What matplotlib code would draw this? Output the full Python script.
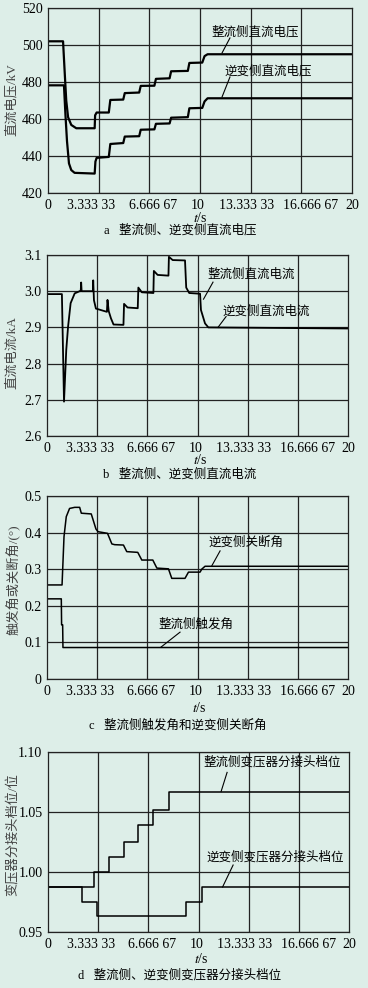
import matplotlib
matplotlib.use('Agg')
import matplotlib.pyplot as plt

plt.rcParams['font.family'] = ['Liberation Serif', 'Noto Sans CJK SC', 'DejaVu Sans']
plt.rcParams['mathtext.fontset'] = 'stix'

# 数据
grid_t = [0, 10/3, 20/3, 10, 40/3, 50/3, 20]
xticklabels = ['0', '3.333 33', '6.666 67', '10', '13.333 33', '16.666 67', '20']
# 原图刻度文字并不正对网格线
label_pos = [0, 2.83, 6.91, 9.87, 13.09, 17.3, 20]

# a 直流电压
ua_r_t = [0, 0.99, 1.1, 1.2, 1.32, 1.53, 1.86, 3.07, 3.1, 3.2, 4.0, 4.1, 4.95, 5.05, 6.0, 6.1,
          7.0, 7.1, 8.0, 8.1, 9.2, 9.3, 10.15, 10.3, 10.5, 20]
ua_r_v = [502, 502, 485, 470, 461, 456.8, 455, 455, 462, 463.5, 463.5, 470.3, 470.5, 474, 474.3, 477.9,
          478, 481.7, 482, 485.8, 486, 490.3, 490.5, 494, 495, 495]
ua_i_t = [0, 1.05, 1.15, 1.25, 1.38, 1.53, 1.75, 3.07, 3.12, 3.2, 4.0, 4.1, 4.95, 5.05, 6.0, 6.1,
          7.0, 7.1, 8.0, 8.1, 9.2, 9.3, 10.15, 10.3, 10.5, 20]
ua_i_v = [478.2, 478.2, 462, 448, 436, 432.4, 430.9, 430.5, 437, 439, 439.5, 446.5, 447, 450.5, 450.7, 454.2,
          454.4, 457.4, 457.6, 460.7, 461, 465.8, 466, 469.5, 471.2, 471.2]

# b 直流电流 (两侧重合)
id_t = [0, 0.99, 1.13, 1.28, 1.4, 1.57, 1.84, 2.17, 2.24, 2.27, 2.3, 3.05, 3.07, 3.12, 3.25, 3.98,
        4.02, 4.1, 4.25, 4.42, 5.08, 5.12, 5.35, 6.03, 6.07, 6.3, 7.07, 7.1, 7.35, 8.07, 8.1, 8.35,
        9.17, 9.25, 9.45, 10.17, 10.23, 10.5, 10.72, 20]
id_v = [2.992, 2.992, 2.695, 2.838, 2.902, 2.967, 2.994, 3.0, 3.0, 3.024, 3.0, 3.0, 3.03, 2.975, 2.952, 2.943,
        2.976, 2.945, 2.925, 2.908, 2.907, 2.965, 2.955, 2.953, 3.01, 2.997, 2.995, 3.056, 3.045, 3.043, 3.095, 3.086,
        3.085, 3.01, 2.995, 2.993, 2.948, 2.911, 2.9, 2.897]

# c 触发角/关断角
gam_t = [0, 1.0, 1.13, 1.28, 1.5, 1.84, 2.17, 2.28, 2.94, 3.1, 3.25, 3.39, 4.02, 4.31, 4.5, 5.08,
         5.3, 6.03, 6.3, 7.03, 7.3, 8.07, 8.29, 9.17, 9.4, 10.17, 10.28, 10.5, 20]
gam_v = [0.257, 0.257, 0.389, 0.4435, 0.466, 0.469, 0.469, 0.453, 0.451, 0.43, 0.41, 0.4025, 0.398, 0.369, 0.367, 0.366,
         0.348, 0.346, 0.325, 0.325, 0.303, 0.301, 0.275, 0.275, 0.292, 0.292, 0.30, 0.308, 0.308]
alp_t = [0, 0.95, 0.97, 1.04, 1.06, 20]
alp_v = [0.219, 0.219, 0.148, 0.148, 0.086, 0.086]

# d 分接头档位
tap_r_t = [0, 3.03, 4.02, 5.08, 6.01, 7.0, 8.04, 20]
tap_r_v = [0.9875, 1.0, 1.0125, 1.025, 1.039, 1.052, 1.067, 1.067]
tap_i_t = [0, 2.25, 3.25, 9.17, 10.21, 20]
tap_i_v = [0.9875, 0.975, 0.9635, 0.975, 0.9875, 0.9875]

W, H = 368, 988
bg = '#ddeee8'
fig = plt.figure(figsize=(W/100, H/100), dpi=100, facecolor=bg)


def add_ax(l, t, r, b):
    ax = fig.add_axes([l/W, 1 - b/H, (r - l)/W, (b - t)/H])
    ax.set_facecolor(bg)
    ax.set_xlim(0, 20)
    ax.set_xticks(grid_t, minor=True)
    ax.set_xticks(label_pos)
    ax.set_xticklabels(xticklabels)
    ax.xaxis.grid(False, which='major')
    ax.xaxis.grid(True, which='minor', color='#222222', lw=0.9)
    ax.yaxis.grid(True, color='#222222', lw=0.9)
    ax.tick_params(which='both', length=0, labelsize=10, pad=4)
    for s in ax.spines.values():
        s.set_color('#222222')
        s.set_linewidth(0.9)
    return ax


def ftext(x, y, s, **kw):
    fig.text(x/W, 1 - y/H, s, ha='center', va='center', **kw)


def label(ax, s, xy_text, p0, p1):
    ax.text(xy_text[0], xy_text[1], s, ha='center', va='center', fontsize=9, family=['Noto Sans CJK SC'])
    ax.plot([p0[0], p1[0]], [p0[1], p1[1]], color='k', lw=0.8)


# a
ax = add_ax(48, 8, 352, 193)
ax.plot(ua_r_t, ua_r_v, color='k', lw=1.6)
ax.plot(ua_i_t, ua_i_v, color='k', lw=1.6)
ax.set_ylim(420, 520)
ax.set_yticks([420, 440, 460, 480, 500, 520])
label(ax, '整流侧直流电压', (13.6, 507), (11.97, 503.8), (11.45, 495.7))
label(ax, '逆变侧直流电压', (14.5, 486), (11.97, 482.7), (11.45, 471.9))
ftext(12, 100, '直流电压/kV', rotation=90, fontsize=9.5, color='#444444')
ftext(200, 218, '$t$/s', fontsize=10)
ftext(180, 230, 'a   整流侧、逆变侧直流电压', fontsize=9)

# b
ax = add_ax(47, 255, 348, 436)
ax.plot(id_t, id_v, color='k', lw=1.3)
ax.set_ylim(2.6, 3.1)
ax.set_yticks([2.6, 2.7, 2.8, 2.9, 3.0, 3.1])
ax.set_yticklabels(['2.6', '2.7', '2.8', '2.9', '3.0', '3.1'])
label(ax, '整流侧直流电流', (13.6, 3.048), (11.03, 3.025), (10.4, 2.978))
label(ax, '逆变侧直流电流', (14.55, 2.945), (11.9, 2.93), (11.36, 2.9))
ftext(12, 353, '直流电流/kA', rotation=90, fontsize=9.5, color='#444444')
ftext(200, 460, '$t$/s', fontsize=10)
ftext(180, 475, 'b   整流侧、逆变侧直流电流', fontsize=9)

# c
ax = add_ax(47, 496, 348, 679)
ax.plot(gam_t, gam_v, color='k', lw=1.1)
ax.plot(alp_t, alp_v, color='k', lw=1.1)
ax.set_ylim(0, 0.5)
ax.set_yticks([0, 0.1, 0.2, 0.3, 0.4, 0.5])
ax.set_yticklabels(['0', '0.1', '0.2', '0.3', '0.4', '0.5'])
label(ax, '逆变侧关断角', (13.2, 0.374), (11.5, 0.35), (10.96, 0.31))
label(ax, '整流侧触发角', (9.9, 0.150), (8.84, 0.128), (7.57, 0.087))
ftext(14, 580, '触发角或关断角/(°)', rotation=90, fontsize=9.5, color='#444444')
ftext(199, 708, '$t$/s', fontsize=10)
ftext(178, 725, 'c   整流侧触发角和逆变侧关断角', fontsize=9)

# d
ax = add_ax(48, 752, 349, 932)
ax.step(tap_r_t, tap_r_v, where='post', color='k', lw=1.1)
ax.step(tap_i_t, tap_i_v, where='post', color='k', lw=1.1)
ax.set_ylim(0.95, 1.10)
ax.set_yticks([0.95, 1.00, 1.05, 1.10])
ax.set_yticklabels(['0.95', '1.00', '1.05', '1.10'])
label(ax, '整流侧变压器分接头档位', (14.9, 1.0917), (11.9, 1.083), (11.5, 1.067))
label(ax, '逆变侧变压器分接头档位', (15.1, 1.0125), (12.3, 1.0058), (11.6, 0.9875))
ftext(12, 835, '变压器分接头档位/位', rotation=90, fontsize=9.5, color='#444444')
ftext(201, 959, '$t$/s', fontsize=10)
ftext(180, 975, 'd   整流侧、逆变侧变压器分接头档位', fontsize=9)

fig.savefig('out.png', dpi=100, facecolor=bg)
